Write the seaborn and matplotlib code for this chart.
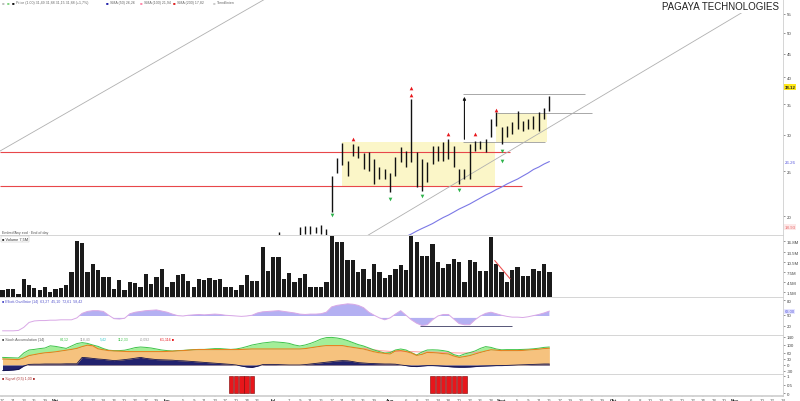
import numpy as np
import pandas as pd
import matplotlib
matplotlib.use("Agg")
import matplotlib.pyplot as plt
from matplotlib.patches import Rectangle
from matplotlib.ticker import NullLocator, FixedLocator, FixedFormatter
import seaborn as sns

sns.set_theme(style="white")
plt.rcParams['font.family'] = ['Liberation Sans', 'DejaVu Sans']

# ---------------- data ----------------
volume = [2.0, 2.5, 2.5, 1.0, 5.5, 3.7, 2.7, 2.2, 3.0, 1.5,
          2.5, 2.7, 3.7, 7.5, 17.0, 16.3, 7.5, 10.0, 8.0, 6.0,
          6.0, 2.5, 5.0, 2.0, 4.5, 4.2, 3.0, 7.0, 4.0, 6.0,
          8.3, 3.0, 4.5, 6.5, 6.8, 4.8, 3.0, 5.5, 5.0, 5.7,
          5.0, 5.5, 3.0, 3.0, 2.0, 3.5, 6.5, 4.8, 4.8, 15.0,
          7.7, 12.0, 12.0, 5.3, 7.2, 4.5, 5.7, 6.8, 3.0, 3.0,
          3.0, 4.5, 18.5, 16.5, 16.5, 11.2, 11.2, 7.5, 8.3, 5.5,
          10.0, 7.5, 5.7, 6.5, 8.5,
          9.7, 8.0, 18.5, 16.7, 12.3, 12.3, 16.0, 10.5, 8.7, 10.0,
          11.5, 10.7, 4.5, 11.3, 10.7, 7.7, 7.7, 18.0, 10.0, 7.5,
          4.5, 8.0, 9.0, 6.3, 6.3, 8.5, 7.7, 10.0, 7.5]

price_start = 52
price_high = [18.46, np.nan, np.nan, 18.19, 18.93, 19.02, 19.02, 18.93, 19.12, 18.74,
              24.43, 26.73, 28.81, 26.33, 28.67, 28.38, 27.41, 27.54, 26.60, 25.55,
              25.30, 24.80, 26.86, 28.24, 27.68, 35.90, 27.54, 26.60, 26.20, 28.38,
              28.38, 28.95, 29.39, 28.38, 25.30, 25.30, 28.67, 29.10, 29.10, 29.39,
              32.48, 33.64, 31.21, 31.37, 32.00, 33.81, 32.16, 32.48, 32.97, 33.64,
              34.32, 36.44]
price_low = [17.90, np.nan, np.nan, 17.90, 18.19, 18.28, 18.28, 18.37, 18.28, 18.10,
             20.40, 24.80, 25.81, 24.43, 27.00, 26.73, 25.30, 25.05, 23.47, 24.06,
             24.06, 22.55, 24.43, 26.20, 25.55, 26.20, 23.12, 22.66, 23.71, 25.94,
             26.33, 26.33, 26.60, 25.55, 23.47, 24.06, 24.06, 27.68, 27.96, 27.54,
             29.69, 31.37, 28.67, 29.69, 30.14, 30.90, 30.59, 30.90, 30.90, 30.59,
             32.48, 33.81]

ma_start = 76
ma_values = [18.05, 18.28, 18.55, 18.79, 19.02, 19.26, 19.56, 19.85, 20.10, 20.40,
             20.71, 20.97, 21.24, 21.56, 21.88, 22.21, 22.49, 22.83, 23.12, 23.47,
             23.77, 24.06, 24.43, 24.80, 25.24, 25.55, 25.94, 26.26]

red_marker_idx = [66, 77, 77, 84, 89, 93]
red_marker_price = [29.39, 36.63, 37.93, 30.14, 30.14, 33.98]
green_marker_idx = [62, 73, 79, 86, 94, 94]
green_marker_price = [20.10, 21.77, 22.10, 22.78, 27.68, 26.33]

oscillator = [11, 11, 11, 12, 20, 33, 37, 38, 38, 39, 39, 40, 40, 40, 45,
              57, 62, 64, 64, 62, 52, 43, 42, 44,
              56, 60, 62, 64, 65, 66, 63, 60, 55, 51,
              50, 52, 53, 54, 53, 54, 55, 54, 52, 51, 50, 49, 50, 52,
              58, 61, 62, 63, 64, 62, 60, 58,
              55, 54, 55, 55, 56, 60,
              74, 78, 80, 82, 81, 78, 72,
              60, 52, 45, 40, 45, 55,
              64, 52, 40, 31, 25, 27, 40, 50, 54, 54,
              42, 30, 27, 27, 40, 50, 57, 60, 56, 52, 49, 47, 47, 46, 48, 51, 54, 58, 63]

acc_orange = [30, 29, 28, 27, 35, 47, 52, 57, 61, 63, 66, 70, 74, 78, 83, 92, 99, 96, 81, 76,
              72, 70, 69, 68, 67, 67, 67, 67, 67, 67, 67, 68, 69, 71, 72, 74, 76, 77, 77, 77,
              77, 77, 77, 77, 77, 78, 79, 80, 80, 80, 80, 80, 80, 80, 80, 80, 80, 82, 86, 90,
              94, 97, 97, 97, 97, 92, 88, 84, 80, 73, 66, 61, 58, 55, 70, 72, 67, 60, 48, 53,
              63, 62, 60, 57, 55, 45, 38, 42, 47, 55, 63, 70, 76, 74, 72, 72, 72, 72, 73, 75,
              77, 79, 82, 84]
acc_green = [38, 37, 36, 35, 60, 75, 78, 82, 85, 96, 93, 88, 83, 95, 107, 112, 108, 100, 93, 82,
             74, 72, 72, 74, 80, 87, 90, 88, 85, 80, 75, 72, 70, 72, 73, 75, 77, 78, 78, 80,
             82, 82, 80, 78, 80, 85, 92, 100, 105, 110, 113, 116, 114, 112, 108, 100, 95, 100, 108, 118,
             130, 137, 138, 135, 130, 122, 112, 102, 95, 85, 75, 67, 60, 62, 75, 80, 75, 62, 50, 65,
             75, 76, 75, 72, 67, 52, 45, 55, 62, 70, 83, 92, 88, 80, 76, 77, 77, 77, 78, 79,
             81, 84, 88, 90]
acc_navy = [-28, -27, -25, -22, -5, 3, 4, 4, 5, 5, 5, 5, 6, 6, 6, 38, 36, 33, 30, 28,
            25, 22, 24, 27, 30, 34, 38, 33, 30, 27, 26, 25, 24, 22, 21, 19, 17, 15, 13, 11,
            9, 7, 5, 3, 0, -5, -10, -12, -6, 2, 3, 3, 2, 1, 0, 0, 0, 2, 5, 8,
            11, 14, 17, 20, 22, 21, 17, 12, 10, 8, 7, 6, 5, 5, 4, 0, -3, -7, -8, -5,
            -3, -3, -4, -6, -8, -10, -11, -11, -10, -8, -6, -5, -4, -3, -3, -2, -1, 0, 1, 2,
            3, 4, 5, 5]
pink_start = 68
acc_pink = [85, 80, 76, 72, 70, 68, 68, 68, 68, 67, 66, 65, 65, 65, 64, 63, 62, 61, 60, 60,
            61, 63, 66]

signal_idx = [43, 44, 45, 46, 47, 81, 82, 83, 84, 85, 86, 87]
signal_val = [1] * len(signal_idx)

price_ticks = [20, 25, 30, 35, 40, 45, 50, 55]
last_price_label = 38.12
lower_label = 18.93
title = "PAGAYA TECHNOLOGIES"
holidays = ['2025-05-26', '2025-06-19', '2025-07-04', '2025-09-01', '2025-11-27']
months_de = {1: 'Jan', 2: 'Feb', 3: 'Mär', 4: 'Apr', 5: 'Mai', 6: 'Jun', 7: 'Jul',
             8: 'Aug', 9: 'Sept', 10: 'Okt', 11: 'Nov', 12: 'Dez'}

# ---------------- figure ----------------
W, H = 800, 402
fig = plt.figure(figsize=(W / 100, H / 100), dpi=100)
fig.patch.set_facecolor('white')
XR = 783


def add_ax(top, bottom):
    return fig.add_axes([0, (H - bottom) / H, XR / W, (bottom - top) / H])


ax_p = add_ax(0, 236)
ax_v = add_ax(236, 298)
ax_o = add_ax(298, 336)
ax_a = add_ax(336, 375)
ax_s = add_ax(375, 397)
XMIN, XMAX = -0.47, 147.0
grid_col = '#cfcfcf'
for ax in [ax_p, ax_v, ax_o, ax_a, ax_s]:
    ax.set_facecolor('white')
    for s in ['left', 'bottom']:
        ax.spines[s].set_visible(False)
    for s in ['top', 'right']:
        ax.spines[s].set_color(grid_col)
        ax.spines[s].set_linewidth(0.6)
    ax.yaxis.tick_right()
    ax.tick_params(axis='y', labelsize=3.2, length=1.5, width=0.4, pad=1, colors='#444444')
    ax.tick_params(axis='x', bottom=False, labelbottom=False)
ax_s.spines['bottom'].set_visible(True)
ax_s.spines['bottom'].set_color(grid_col)

# ---- main price panel ----
ax_p.set_yscale('log')
ax_p.set_xlim(XMIN, XMAX)
ax_p.set_ylim(18.19, 59.2)
ax_p.yaxis.set_major_locator(FixedLocator(price_ticks))
ax_p.yaxis.set_major_formatter(FixedFormatter([str(t) for t in price_ticks]))
ax_p.yaxis.set_minor_locator(NullLocator())

ax_p.add_patch(Rectangle((63.9, 23.24), 92.7 - 63.9, 28.95 - 23.24,
                         facecolor='#fbf6c8', edgecolor='none', zorder=0))
ax_p.add_patch(Rectangle((93.0, 28.95), 102.5 - 93.0, 33.47 - 28.95,
                         facecolor='#fbf6c8', edgecolor='none', zorder=0))

ax_p.hlines([27.54], XMIN, 95.6, color='#e8474a', lw=0.8, zorder=1)
ax_p.hlines([23.24], XMIN, 97.8, color='#e8474a', lw=0.8, zorder=1)
ax_p.hlines([36.81], 86.7, 109.7, color='#9a9a9a', lw=0.6, zorder=1)
ax_p.hlines([33.47], 93.1, 111.0, color='#9a9a9a', lw=0.6, zorder=1)
ax_p.hlines([28.95], 86.7, 102.2, color='#9a9a9a', lw=0.6, zorder=1)
ax_p.plot([XMIN, 55.0], [27.68, 64.4], color='#b0b0b0', lw=0.6, zorder=1)
ax_p.plot([68.6, 147.0], [18.10, 62.5], color='#b0b0b0', lw=0.6, zorder=1)

ma_idx = list(range(ma_start, ma_start + len(ma_values)))
sns.lineplot(x=ma_idx, y=ma_values, color='#7b78e6', lw=0.8, ax=ax_p, zorder=2)

p_idx = np.arange(price_start, price_start + len(price_high))
ax_p.vlines(p_idx, price_low, price_high, color='#111111', lw=1.0, zorder=3)
ax_p.annotate('', xy=(87, 36.81), xytext=(87, 28.95),
              arrowprops=dict(arrowstyle='-|>', color='#111111', lw=0.8, mutation_scale=4),
              zorder=3)
sns.scatterplot(x=red_marker_idx, y=red_marker_price, marker='^', color='#e8161b',
                s=7, linewidth=0, ax=ax_p, zorder=4)
sns.scatterplot(x=green_marker_idx, y=green_marker_price, marker='v', color='#2db34a',
                s=7, linewidth=0, ax=ax_p, zorder=4)
ax_p.set_xlabel('')
ax_p.set_ylabel('')

ytr = ax_p.get_yaxis_transform()
ax_p.text(1.002, last_price_label, f"{last_price_label:.2f}", transform=ytr, fontsize=3.2,
          va='center', ha='left', fontweight='bold',
          bbox=dict(facecolor='#ffe81a', edgecolor='none', pad=0.6), clip_on=False)
ax_p.text(1.002, ma_values[-1], f"{ma_values[-1]:.2f}", transform=ytr, fontsize=3.2,
          va='center', ha='left', color='#5555dd',
          bbox=dict(facecolor='white', edgecolor='none', pad=0.4), clip_on=False)
ax_p.text(1.002, lower_label, f"{lower_label:.2f}", transform=ytr, fontsize=3.2,
          va='center', ha='left', color='#e86a6a',
          bbox=dict(facecolor='#fde8e8', edgecolor='none', pad=0.4), clip_on=False)

ax_p.text(721 / XR, 1 - 7 / 236, title, transform=ax_p.transAxes, fontsize=7,
          ha='center', va='center', color='#222222',
          bbox=dict(facecolor='white', edgecolor='none', pad=1.5), zorder=6)

legend_items = [(2, '#bbbbbb', ''), (7, '#7fd47f', ''), (12, '#111111', 'Price (1.00) 31,49 31,88 31,15 31,88 (+1,7%)'),
                (106, '#2222aa', 'SMA (50) 26,26'), (140, '#ff88aa', 'SMA (100) 21,94'),
                (173, '#dd2222', 'SMA (200) 17,82'), (213, '#cccccc', 'Trendlinien')]
for px, col, txt in legend_items:
    ax_p.text(px / XR, 1 - 3 / 236, '■', transform=ax_p.transAxes, fontsize=3.2,
              color=col, va='center', ha='left')
    if txt:
        ax_p.text((px + 4) / XR, 1 - 3 / 236, txt, transform=ax_p.transAxes, fontsize=2.6,
                  color='#666666', va='center', ha='left')
ax_p.text(2 / XR, 3 / 236, 'Embed/Any eod · End of day', transform=ax_p.transAxes,
          fontsize=2.6, color='#555555', va='center', ha='left')

# ---- volume ----
v_idx = list(range(len(volume)))
sns.barplot(x=v_idx, y=volume, native_scale=True, color='#1b1b1b', saturation=1,
            width=0.8, ax=ax_v, edgecolor='none')
ax_v.plot([92.7, 95.6], [11.0, 5.5], color='#ee5555', lw=0.8)
ax_v.set_xlim(XMIN, XMAX)
ax_v.set_ylim(0, 18.7)
vt = [1.5, 4.5, 7.5, 10.5, 13.5, 16.8]
ax_v.set_yticks(vt)
ax_v.set_yticklabels([f"{t:.1f}M" for t in vt])
ax_v.set_xlabel('')
ax_v.set_ylabel('')
ax_v.tick_params(axis='x', bottom=False, labelbottom=False)
ax_v.text(2 / XR, 1 - 4 / 62, '■ Volume 7,5M', transform=ax_v.transAxes, fontsize=2.8,
          color='#333333', va='center', ha='left',
          bbox=dict(facecolor='white', edgecolor='#bbbbbb', lw=0.3, pad=0.6))

# ---- oscillator ----
o_idx = np.arange(len(oscillator))
osc = np.array(oscillator, dtype=float)
upper, lower = 50, 45
ax_o.fill_between(o_idx, osc, upper, where=osc >= upper, interpolate=True,
                  color='#a7a3f0', alpha=0.85, lw=0)
ax_o.fill_between(o_idx, osc, lower, where=(osc <= lower) & (o_idx >= 20), interpolate=True,
                  color='#a7a3f0', alpha=0.85, lw=0)
sns.lineplot(x=o_idx, y=osc, color='#d9a8e6', lw=0.7, ax=ax_o)
ax_o.hlines([23.7], 78.6, 95.9, color='#555577', lw=0.7)
ax_o.hlines([100], XMIN, 103, color='#cccccc', lw=0.5, linestyles=':')
ax_o.set_xlim(XMIN, XMAX)
ax_o.set_ylim(0, 100)
ax_o.set_yticks([24, 53, 92])
ax_o.set_yticklabels(['20', '50', '80'])
ax_o.set_xlabel('')
ax_o.set_ylabel('')
ax_o.tick_params(axis='x', bottom=False, labelbottom=False)
ax_o.text(2 / XR, 1 - 4 / 38, '■ Elliott-Oszillator (14)  63,27  45,10  72,61  58,42',
          transform=ax_o.transAxes, fontsize=2.6, color='#5555cc', va='center', ha='left')
ax_o.text(1.002, osc[-1], f"{osc[-1]:.2f}", transform=ax_o.get_yaxis_transform(),
          fontsize=3.0, va='center', ha='left', color='#5555dd',
          bbox=dict(facecolor='#e6e6ff', edgecolor='none', pad=0.4), clip_on=False)

# ---- accumulation area ----
a_idx = np.arange(len(acc_orange))
orng = np.array(acc_orange, dtype=float)
grn = np.array(acc_green, dtype=float)
nvy = np.array(acc_navy, dtype=float)
ax_a.fill_between(a_idx, 0, orng, color='#f6c27e', lw=0)
ax_a.fill_between(a_idx, orng, grn, where=grn >= orng, interpolate=True, color='#a3ee98', lw=0)
pk_idx = list(range(pink_start, pink_start + len(acc_pink)))
sns.lineplot(x=pk_idx, y=acc_pink, color='#ff9a9a', lw=0.7, ax=ax_a)
sns.lineplot(x=a_idx, y=grn, color='#3fc44a', lw=0.7, ax=ax_a)
sns.lineplot(x=a_idx, y=orng, color='#e8801e', lw=0.8, ax=ax_a)
ax_a.fill_between(a_idx, 0, nvy, color='#22226e', lw=0)
sns.lineplot(x=a_idx, y=nvy, color='#15154f', lw=0.6, ax=ax_a)
ax_a.set_xlim(XMIN, XMAX)
ax_a.set_ylim(-45, 150)
ax_a.set_yticks([-30, 0, 30, 60, 100, 140])
ax_a.set_yticklabels(['-30', '0', '30', '60', '100', '140'])
ax_a.set_xlabel('')
ax_a.set_ylabel('')
ax_a.tick_params(axis='x', bottom=False, labelbottom=False)
acc_leg = [(2, '#555555', '■ Stoch Accumulation (14)'), (60, '#3fc44a', '84,12'),
           (80, '#999999', '118,40'), (100, '#33cccc', '5,42'), (118, '#3fc44a', '112,33'),
           (140, '#999999', '-0,092'), (160, '#e8161b', '61,116 ■')]
for px, col, txt in acc_leg:
    ax_a.text(px / XR, 1 - 4 / 39, txt, transform=ax_a.transAxes, fontsize=2.6,
              color=col, va='center', ha='left')

# ---- signal bars ----
sns.barplot(x=signal_idx, y=signal_val, native_scale=True, color='#e8161b', saturation=1,
            width=0.85, ax=ax_s, edgecolor='#7a0000', linewidth=0.4)
ax_s.set_xlim(XMIN, XMAX)
ax_s.set_ylim(-0.15, 1.1)
ax_s.set_yticks([0, 0.5, 1])
ax_s.set_yticklabels(['0', '0.5', '1'])
ax_s.set_xlabel('')
ax_s.set_ylabel('')
ax_s.text(2 / XR, 1 - 4 / 22, '■ Signal (0,5) 1,00 ■', transform=ax_s.transAxes,
          fontsize=2.6, color='#aa3333', va='center', ha='left')

# ---- date ticks ----
dates = pd.bdate_range('2025-04-17', periods=150, freq='C', holidays=holidays)
starts = [i for i in range(1, len(dates)) if dates[i].month != dates[i - 1].month]
ticks, labels, is_month = [], [], []
for i in range(starts[0] - 2, -1, -2):
    ticks.append(i); labels.append(str(dates[i].day)); is_month.append(False)
for k, s in enumerate(starts):
    ticks.append(s); labels.append(months_de[dates[s].month]); is_month.append(True)
    nxt = starts[k + 1] if k + 1 < len(starts) else len(dates)
    j = s + 3
    while j < nxt - 1:
        ticks.append(j); labels.append(str(dates[j].day)); is_month.append(False)
        j += 2
keep = [n for n, t in enumerate(ticks) if t <= XMAX]
ticks = [ticks[n] for n in keep]
labels = [labels[n] for n in keep]
is_month = [is_month[n] for n in keep]
ax_s.set_xticks(ticks)
ax_s.set_xticklabels(labels)
ax_s.tick_params(axis='x', bottom=True, labelbottom=True, labelsize=3.2, length=1,
                 width=0.3, pad=0.5, colors='#555555')
for lab, m in zip(ax_s.get_xticklabels(), is_month):
    if m:
        lab.set_fontweight('bold')
        lab.set_color('#222222')

fig.savefig('out.png', dpi=100, facecolor='white')
